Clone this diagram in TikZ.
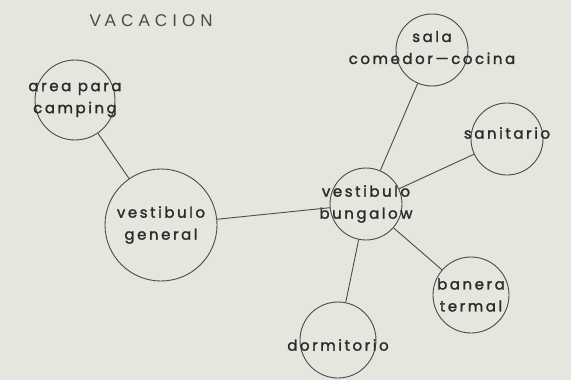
\documentclass[tikz,border=0pt]{standalone}
\usepackage{fontspec}
\setmainfont{Poppins}
\newfontfamily\roomfont[LetterSpace=17, FakeBold=1.6]{Poppins}
\newfontfamily\titlefont[LetterSpace=30]{Liberation Sans}
\definecolor{planpaper}{HTML}{E6E6DF}
\definecolor{planink}{HTML}{4A4A4A}
\definecolor{plantext}{HTML}{2B2B2B}

\begin{document}
\begin{tikzpicture}[x=1pt,y=-1pt]
  \tikzstyle{room}=[circle, draw=planink, line width=0.9pt, inner sep=0pt]
  \tikzstyle{roomlabel}=[font=\roomfont\fontsize{15}{22}\selectfont, text=plantext, align=center, inner sep=0pt]
  \tikzstyle{link}=[draw=planink, line width=0.9pt]

  \fill[planpaper] (0,0) rectangle (571,380);

  \node[font=\titlefont\fontsize{17}{20}\selectfont, text=planink, anchor=west] (title) at (86,21) {VACACION};

  % rooms
  \node[room, minimum size=80pt, label={[roomlabel]center:{area para\\camping}}] (camp) at (75,100) {};
  \node[room, minimum size=112pt, label={[roomlabel]center:{vestibulo\\general}}] (gen) at (161,225) {};
  \node[room, minimum size=72pt, label={[roomlabel]center:{vestibulo\\bungalow}}] (bung) at (366,204) {};
  \node[room, minimum size=72pt, label={[roomlabel, yshift=2.5pt]center:{sala\\comedor—cocina}}] (sala) at (432,50) {};
  \node[room, minimum size=72pt, label={[roomlabel, yshift=6pt]center:{sanitario}}] (sanit) at (507,139) {};
  \node[room, minimum size=76pt, label={[roomlabel]center:{banera\\termal}}] (banera) at (471,295) {};
  \node[room, minimum size=76pt, label={[roomlabel, yshift=-5pt]center:{dormitorio}}] (dorm) at (338,340) {};

  \draw[link] (camp) -- (gen);
  \draw[link] (gen) -- (bung);
  \foreach \room in {sala,sanit,banera,dorm} {
    \draw[link] (bung) -- (\room);
  }
\end{tikzpicture}
\end{document}
